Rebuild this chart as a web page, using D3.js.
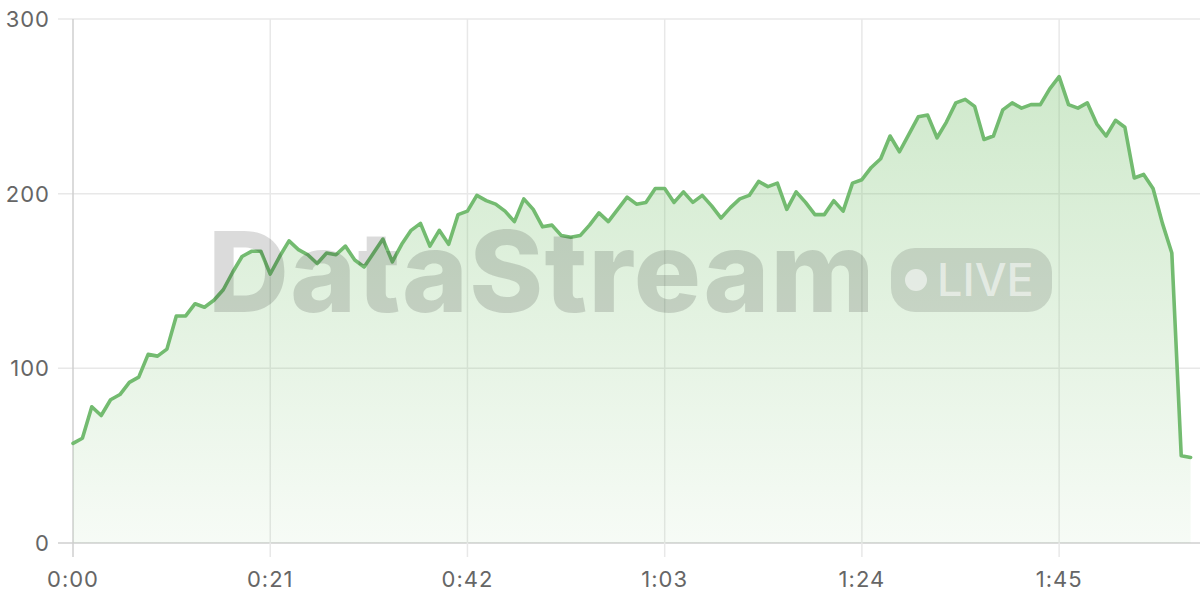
<!DOCTYPE html>
<html>
<head>
<meta charset="utf-8">
<script src="https://cdn.jsdelivr.net/npm/d3@7"></script>
<style>
  html, body { margin: 0; padding: 0; background: #ffffff; }
  svg { display: block; }
</style>
</head>
<body>
<svg id="chart" width="1200" height="600"></svg>
<script>
// ---- data ----
const seconds = d3.range(0, 120);
const values = [
  57, 60, 78, 73, 82, 85, 92, 95, 108, 107,
  111, 130, 130, 137, 135, 139, 145, 155, 164, 167,
  167, 154, 164, 173, 168, 165, 160, 166, 165, 170,
  162, 158, 166, 174, 161, 171, 179, 183, 170, 179,
  171, 188, 190, 199, 196, 194, 190, 184, 197, 191,
  181, 182, 176, 175, 176, 182, 189, 184, 191, 198,
  194, 195, 203, 203, 195, 201, 195, 199, 193, 186,
  192, 197, 199, 207, 204, 206, 191, 201, 195, 188,
  188, 196, 190, 206, 208, 215, 220, 233, 224, 234,
  244, 245, 232, 241, 252, 254, 250, 231, 233, 248,
  252, 249, 251, 251, 260, 267, 251, 249, 252, 240,
  233, 242, 238, 209, 211, 203, 183, 166, 50, 49
];
const xTicks = [0, 21, 42, 63, 84, 105];
const yTicks = [0, 100, 200, 300];
const watermarkText = "DataStream";
const badgeText = "LIVE";

// ---- layout ----
const svg = d3.select("#chart");
const mLeft = 73, mRight = 1200, mTop = 19, mBottom = 543;

const x = d3.scaleLinear().domain([0, 120]).range([mLeft, mRight]);
const y = d3.scaleLinear().domain([0, 300]).range([mBottom, mTop]);

const fmt = s => Math.floor(s / 60) + ":" + String(s % 60).padStart(2, "0");

const defs = svg.append("defs");
const grad = defs.append("linearGradient")
  .attr("id", "areaGrad").attr("gradientUnits", "userSpaceOnUse")
  .attr("x1", 0).attr("y1", mTop).attr("x2", 0).attr("y2", mBottom);
grad.append("stop").attr("offset", "0%").attr("stop-color", "#73bf69").attr("stop-opacity", 0.38);
grad.append("stop").attr("offset", "100%").attr("stop-color", "#73bf69").attr("stop-opacity", 0.06);

// grid
const gGrid = svg.append("g");
gGrid.selectAll("line.h").data(yTicks).join("line")
  .attr("x1", mLeft - 15).attr("x2", mRight)
  .attr("y1", d => y(d)).attr("y2", d => y(d))
  .attr("stroke", d => d === 0 ? "#cfcfcf" : "#e8e8e8").attr("stroke-width", 1.5);
gGrid.selectAll("line.v").data(xTicks).join("line")
  .attr("x1", d => x(d)).attr("x2", d => x(d))
  .attr("y1", mTop).attr("y2", mBottom + 14)
  .attr("stroke", d => d === 0 ? "#cfcfcf" : "#e8e8e8").attr("stroke-width", 1.5);

// area + line
const pts = seconds.map((s, i) => [s, values[i]]);
svg.append("path").datum(pts)
  .attr("fill", "url(#areaGrad)")
  .attr("d", d3.area().x(d => x(d[0])).y0(y(0)).y1(d => y(d[1])));
svg.append("path").datum(pts)
  .attr("fill", "none").attr("stroke", "#73bb70").attr("stroke-width", 3.6)
  .attr("stroke-linejoin", "round").attr("stroke-linecap", "round")
  .attr("d", d3.line().x(d => x(d[0])).y(d => y(d[1])));

// axis labels
const fontFam = "Inter, 'Open Sans', sans-serif";
svg.append("g").selectAll("text").data(yTicks).join("text")
  .attr("x", 50).attr("y", d => y(d) + 8)
  .attr("text-anchor", "end")
  .attr("font-family", fontFam).attr("font-size", 22).attr("letter-spacing", 1)
  .attr("fill", "#666").text(d => d);
svg.append("g").selectAll("text").data(xTicks).join("text")
  .attr("x", d => x(d)).attr("y", 587)
  .attr("text-anchor", "middle")
  .attr("font-family", fontFam).attr("font-size", 22).attr("letter-spacing", 1)
  .attr("fill", "#666").text(d => fmt(d));

// watermark
const wm = svg.append("g").attr("pointer-events", "none");
wm.append("text")
  .attr("x", 208).attr("y", 312)
  .attr("font-family", fontFam).attr("font-weight", 800).attr("font-size", 112)
  .attr("letter-spacing", 1.3)
  .attr("fill", "#000").attr("fill-opacity", 0.14)
  .text(watermarkText);
wm.append("rect")
  .attr("x", 891).attr("y", 248).attr("width", 161).attr("height", 64).attr("rx", 24)
  .attr("fill", "#000").attr("fill-opacity", 0.12);
wm.append("circle").attr("cx", 916).attr("cy", 280).attr("r", 11)
  .attr("fill", "#fff").attr("fill-opacity", 0.55);
wm.append("text")
  .attr("x", 937).attr("y", 296)
  .attr("font-family", fontFam).attr("font-weight", 500).attr("font-size", 45)
  .attr("fill", "#fff").attr("fill-opacity", 0.55)
  .text(badgeText);
</script>
</body>
</html>
